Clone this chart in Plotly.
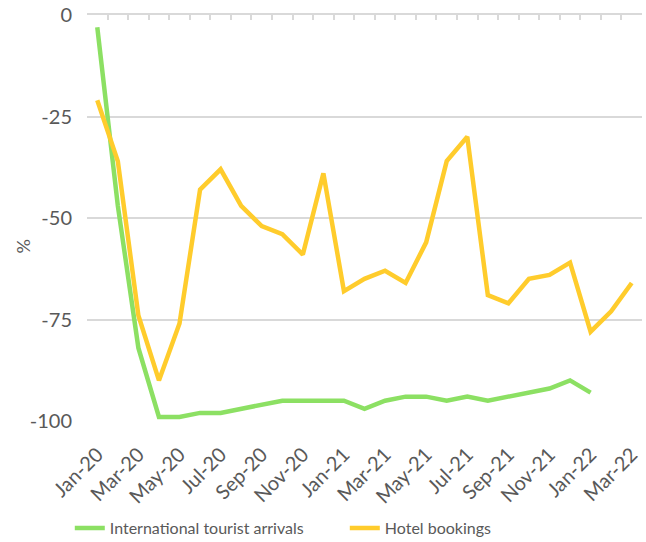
import plotly.graph_objects as go

months = ["Jan-20","Feb-20","Mar-20","Apr-20","May-20","Jun-20","Jul-20","Aug-20","Sep-20",
          "Oct-20","Nov-20","Dec-20","Jan-21","Feb-21","Mar-21","Apr-21","May-21","Jun-21",
          "Jul-21","Aug-21","Sep-21","Oct-21","Nov-21","Dec-21","Jan-22","Feb-22","Mar-22"]

arrivals = [-3, -47, -82, -99, -99, -98, -98, -97, -96, -95, -95, -95, -95, -97, -95, -94,
            -94, -95, -94, -95, -94, -93, -92, -90, -93, None, None]

hotel = [-21, -36, -74, -90, -76, -43, -38, -47, -52, -54, -59, -39, -68, -65, -63, -66,
         -56, -36, -30, -69, -71, -65, -64, -61, -78, -73, -66]

tick_labels = months[::2]
y_ticks = [0, -25, -50, -75, -100]

font_family = "Lato, 'Open Sans', sans-serif"
grey = "#595959"

fig = go.Figure()
fig.add_trace(go.Scatter(x=months, y=arrivals, mode="lines", name="International tourist arrivals",
                         line=dict(color="#8CE063", width=4.5), connectgaps=False))
fig.add_trace(go.Scatter(x=months, y=hotel, mode="lines", name="Hotel bookings",
                         line=dict(color="#FFCC2C", width=4.5)))
fig.add_trace(go.Scatter(x=months, y=[None]*len(months), xaxis="x2", showlegend=False,
                         hoverinfo="skip"))

fig.update_layout(
    width=646, height=542,
    margin=dict(l=87, r=4, t=15, b=121, autoexpand=False),
    paper_bgcolor="white", plot_bgcolor="white",
    font=dict(family=font_family, color=grey, size=17),
    xaxis=dict(type="category", categoryorder="array", categoryarray=months,
               tickmode="array", tickvals=tick_labels, ticktext=tick_labels,
               tickangle=-45, showgrid=False, showline=False, ticks="",
               ticklabelstandoff=17, automargin=False,
               tickfont=dict(size=20, color=grey), range=[-0.5, len(months)-0.5]),
    xaxis2=dict(type="category", categoryorder="array", categoryarray=months,
                overlaying="x", side="top", showline=True, linecolor="#D9D9D9", linewidth=2,
                ticks="inside", ticklen=5, tickcolor="#D9D9D9", tickwidth=1.5,
                tickson="boundaries", showticklabels=False, showgrid=False,
                automargin=False, range=[-0.5, len(months)-0.5]),
    yaxis=dict(range=[-100, 0], tickvals=y_ticks, ticktext=[str(v) for v in y_ticks],
               showgrid=True, gridcolor="#D9D9D9", gridwidth=1.5, zeroline=False,
               showline=False, ticks="", automargin=False, ticklabelstandoff=14,
               tickfont=dict(size=20, color=grey)),
    legend=dict(orientation="h", x=-0.031, xanchor="left",
                y=-0.2635, yanchor="middle",
                font=dict(size=16, color=grey), entrywidth=230, entrywidthmode="pixels"),
    annotations=[dict(text="%", xref="paper", yref="paper", x=-0.115, y=0.43,
                      showarrow=False, textangle=-90, font=dict(size=18, color=grey),
                      xanchor="center", yanchor="middle")],
    showlegend=True,
)

fig.write_html("out.html")
